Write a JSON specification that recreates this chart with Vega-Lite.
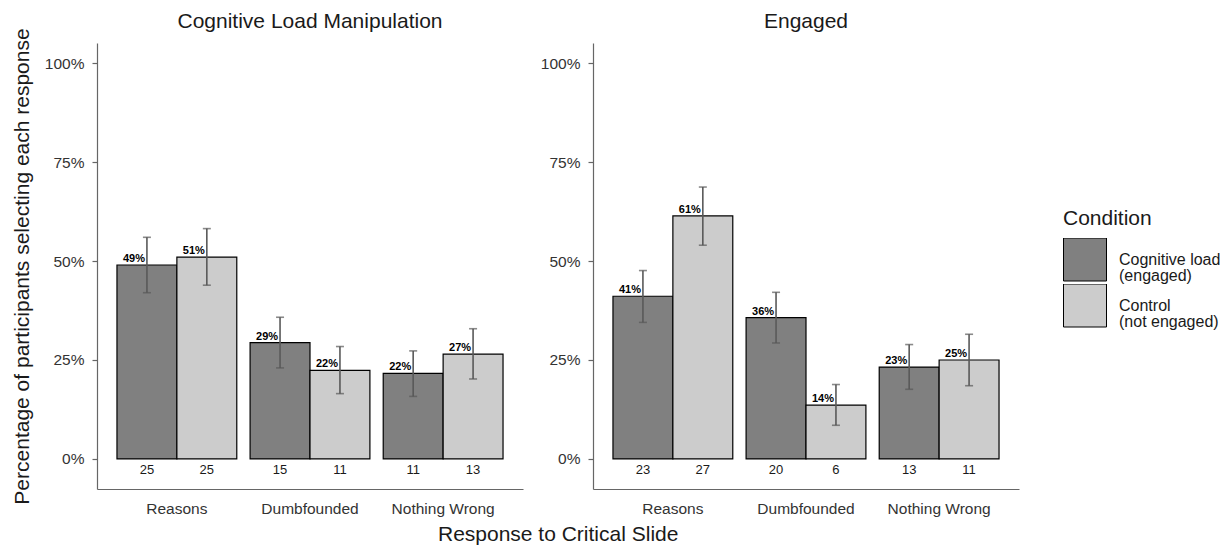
{
  "$schema": "https://vega.github.io/schema/vega-lite/v6.json",
  "padding": {"left": 11, "top": 10, "right": 5, "bottom": 0},
  "background": "white",
  "config": {
    "font": "Liberation Sans",
    "view": {"stroke": null},
    "title": {"fontSize": 21, "fontWeight": "normal", "color": "#1a1a1a"},
    "axis": {"grid": false, "domainColor": "#666666", "tickColor": "#666666", "labelColor": "#333333", "labelFontSize": 15.5, "titleFontSize": 21, "titleFontWeight": "normal", "titleColor": "#1a1a1a", "domainWidth": 1.2, "tickWidth": 1.2},
    "legend": {"titleFontSize": 21, "titleFontWeight": "normal", "titleColor": "#1a1a1a", "labelFontSize": 16, "labelColor": "#1a1a1a"}
  },
  "data": {"values": [
    {"panel": "Cognitive Load Manipulation", "response": "Reasons", "condition": "Cognitive load (engaged)", "prop": 0.490, "lo": 0.420, "hi": 0.560, "n": 25},
    {"panel": "Cognitive Load Manipulation", "response": "Reasons", "condition": "Control (not engaged)", "prop": 0.510, "lo": 0.439, "hi": 0.582, "n": 25},
    {"panel": "Cognitive Load Manipulation", "response": "Dumbfounded", "condition": "Cognitive load (engaged)", "prop": 0.294, "lo": 0.230, "hi": 0.358, "n": 15},
    {"panel": "Cognitive Load Manipulation", "response": "Dumbfounded", "condition": "Control (not engaged)", "prop": 0.224, "lo": 0.165, "hi": 0.284, "n": 11},
    {"panel": "Cognitive Load Manipulation", "response": "Nothing Wrong", "condition": "Cognitive load (engaged)", "prop": 0.216, "lo": 0.158, "hi": 0.273, "n": 11},
    {"panel": "Cognitive Load Manipulation", "response": "Nothing Wrong", "condition": "Control (not engaged)", "prop": 0.265, "lo": 0.202, "hi": 0.329, "n": 13},
    {"panel": "Engaged", "response": "Reasons", "condition": "Cognitive load (engaged)", "prop": 0.411, "lo": 0.345, "hi": 0.476, "n": 23},
    {"panel": "Engaged", "response": "Reasons", "condition": "Control (not engaged)", "prop": 0.614, "lo": 0.540, "hi": 0.687, "n": 27},
    {"panel": "Engaged", "response": "Dumbfounded", "condition": "Cognitive load (engaged)", "prop": 0.357, "lo": 0.293, "hi": 0.421, "n": 20},
    {"panel": "Engaged", "response": "Dumbfounded", "condition": "Control (not engaged)", "prop": 0.136, "lo": 0.085, "hi": 0.188, "n": 6},
    {"panel": "Engaged", "response": "Nothing Wrong", "condition": "Cognitive load (engaged)", "prop": 0.232, "lo": 0.176, "hi": 0.289, "n": 13},
    {"panel": "Engaged", "response": "Nothing Wrong", "condition": "Control (not engaged)", "prop": 0.250, "lo": 0.185, "hi": 0.315, "n": 11}
  ]},
  "title": {"text": "Response to Critical Slide", "orient": "bottom", "anchor": "middle", "fontSize": 21, "offset": 7, "dx": -58},
  "spacing": 17,
  "hconcat": [
    {
      "width": 426, "height": 446,
      "title": {"text": "Cognitive Load Manipulation", "offset": -4},
      "transform": [{"filter": "datum.panel == 'Cognitive Load Manipulation'"}],
      "encoding": {
        "x": {"field": "response", "type": "nominal", "sort": ["Reasons", "Dumbfounded", "Nothing Wrong"], "scale": {"paddingInner": 0.1, "paddingOuter": 0.15}, "axis": {"title": null, "labelAngle": 0, "ticks": false, "labelPadding": 12}},
        "xOffset": {"field": "condition", "type": "nominal", "sort": ["Cognitive load (engaged)", "Control (not engaged)"]}
      },
      "layer": [
        {"mark": {"type": "bar", "stroke": "black", "strokeWidth": 1.2},
         "encoding": {
           "y": {"field": "prop", "type": "quantitative", "stack": null, "scale": {"domain": [-0.076, 1.051], "nice": false, "zero": false}, "axis": {"values": [0, 0.25, 0.5, 0.75, 1], "format": ".0%", "title": "Percentage of participants selecting each response", "tickSize": 5, "labelPadding": 8, "titlePadding": 12}},
           "y2": {"datum": 0},
           "color": {"field": "condition", "type": "nominal", "sort": ["Cognitive load (engaged)", "Control (not engaged)"], "scale": {"range": ["#808080", "#cccccc"]}, "legend": {"title": "Condition", "orient": "none", "legendX": 966, "legendY": 165, "symbolType": "square", "symbolSize": 1849, "symbolStrokeColor": "black", "symbolStrokeWidth": 1, "symbolOpacity": 1, "rowPadding": -3, "clipHeight": 43, "labelOffset": 12, "titlePadding": 9, "labelExpr": "datum.label == 'Cognitive load (engaged)' ? ['Cognitive load', '(engaged)'] : ['Control', '(not engaged)']", "encode": {"labels": {"update": {"lineHeight": {"value": 16}}}}}}
         }},
        {"mark": {"type": "rule", "color": "#595959", "strokeWidth": 1.6},
         "encoding": {"y": {"field": "lo", "type": "quantitative"}, "y2": {"field": "hi"}}},
        {"mark": {"type": "tick", "color": "#595959", "size": 8, "thickness": 1.6},
         "encoding": {"y": {"field": "lo", "type": "quantitative"}}},
        {"mark": {"type": "tick", "color": "#595959", "size": 8, "thickness": 1.6},
         "encoding": {"y": {"field": "hi", "type": "quantitative"}}},
        {"mark": {"type": "text", "dx": -13, "dy": -1, "baseline": "bottom", "fontWeight": "bold", "fontSize": 11, "color": "black"},
         "encoding": {"y": {"field": "prop", "type": "quantitative"}, "text": {"field": "prop", "type": "quantitative", "format": ".0%"}}},
        {"mark": {"type": "text", "baseline": "middle", "fontSize": 13, "color": "#1a1a1a"},
         "encoding": {"y": {"datum": -0.028}, "text": {"field": "n", "type": "quantitative"}}}
      ]
    },
    {
      "width": 426, "height": 446,
      "title": {"text": "Engaged", "offset": 11},
      "transform": [{"filter": "datum.panel == 'Engaged'"}],
      "encoding": {
        "x": {"field": "response", "type": "nominal", "sort": ["Reasons", "Dumbfounded", "Nothing Wrong"], "scale": {"paddingInner": 0.1, "paddingOuter": 0.15}, "axis": {"title": null, "labelAngle": 0, "ticks": false, "labelPadding": 12}},
        "xOffset": {"field": "condition", "type": "nominal", "sort": ["Cognitive load (engaged)", "Control (not engaged)"]}
      },
      "layer": [
        {"mark": {"type": "bar", "stroke": "black", "strokeWidth": 1.2},
         "encoding": {
           "y": {"field": "prop", "type": "quantitative", "stack": null, "scale": {"domain": [-0.076, 1.051], "nice": false, "zero": false}, "axis": {"values": [0, 0.25, 0.5, 0.75, 1], "format": ".0%", "title": null, "tickSize": 5, "labelPadding": 8}},
           "y2": {"datum": 0},
           "color": {"field": "condition", "type": "nominal", "sort": ["Cognitive load (engaged)", "Control (not engaged)"], "scale": {"range": ["#808080", "#cccccc"]}}
         }},
        {"mark": {"type": "rule", "color": "#595959", "strokeWidth": 1.6},
         "encoding": {"y": {"field": "lo", "type": "quantitative"}, "y2": {"field": "hi"}}},
        {"mark": {"type": "tick", "color": "#595959", "size": 8, "thickness": 1.6},
         "encoding": {"y": {"field": "lo", "type": "quantitative"}}},
        {"mark": {"type": "tick", "color": "#595959", "size": 8, "thickness": 1.6},
         "encoding": {"y": {"field": "hi", "type": "quantitative"}}},
        {"mark": {"type": "text", "dx": -13, "dy": -1, "baseline": "bottom", "fontWeight": "bold", "fontSize": 11, "color": "black"},
         "encoding": {"y": {"field": "prop", "type": "quantitative"}, "text": {"field": "prop", "type": "quantitative", "format": ".0%"}}},
        {"mark": {"type": "text", "baseline": "middle", "fontSize": 13, "color": "#1a1a1a"},
         "encoding": {"y": {"datum": -0.028}, "text": {"field": "n", "type": "quantitative"}}}
      ]
    }
  ]
}
